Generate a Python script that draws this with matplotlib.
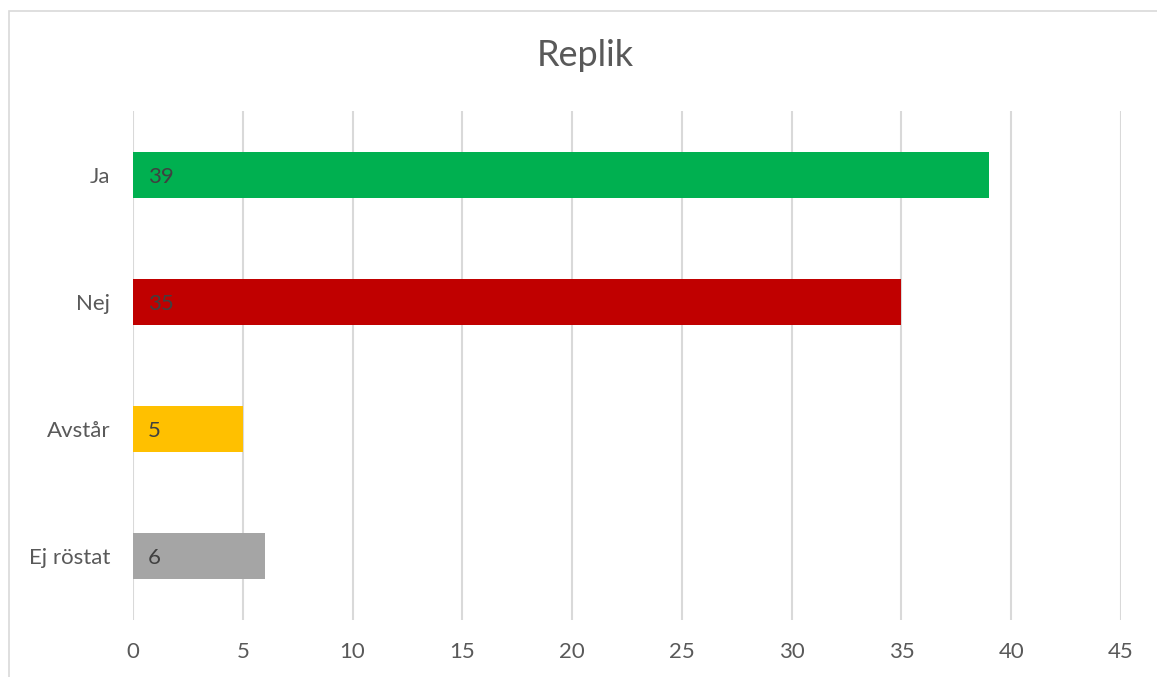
import matplotlib
matplotlib.use("Agg")
import matplotlib.pyplot as plt
from matplotlib.patches import Rectangle
from matplotlib.transforms import offset_copy

categories = ["Ja", "Nej", "Avstår", "Ej röstat"]
values = [39, 35, 5, 6]
colors = ["#00B050", "#C00000", "#FFC000", "#A5A5A5"]
xticks = [0, 5, 10, 15, 20, 25, 30, 35, 40, 45]

plt.rcParams['font.family'] = ['Lato', 'DejaVu Sans']

W, H = 1157, 677
fig = plt.figure(figsize=(W / 100, H / 100), dpi=100)

# chart border
fig.patches.append(Rectangle((9 / W, -0.1), 1.2, 1 - 11 / H + 0.1,
                             transform=fig.transFigure, fill=False,
                             edgecolor="#D9D9D9", linewidth=1.2))

ax = fig.add_axes([133 / W, 1 - 620 / H, (1121 - 133) / W, (620 - 111) / H])
y = list(range(len(categories)))
ax.barh(y, values, height=0.36, color=colors, zorder=3)
ax.set_ylim(len(categories) - 0.5, -0.5)
ax.set_xlim(0, 45)
ax.set_xticks(xticks)
ax.set_xticklabels([str(t) for t in xticks])
ax.set_yticks(y)
ax.set_yticklabels(categories)
ax.tick_params(axis="both", length=0, labelsize=16, colors="#595959")
ax.tick_params(axis="x", pad=16)
ax.tick_params(axis="y", pad=16.5)
for s in ax.spines.values():
    s.set_visible(False)
ax.grid(axis="x", color="#D9D9D9", linewidth=1.5, zorder=0)
ax.set_axisbelow(True)

trans = offset_copy(ax.transData, fig=fig, x=15, y=-2, units="dots")
for yi, v in zip(y, values):
    ax.text(0, yi, str(v), transform=trans, ha="left", va="center",
            fontsize=16, color="#404040", zorder=4)

fig.text(585 / W, 1 - 56 / H, "Replik", ha="center", va="center",
         fontsize=26, color="#595959")

fig.savefig("out.png", dpi=100)
